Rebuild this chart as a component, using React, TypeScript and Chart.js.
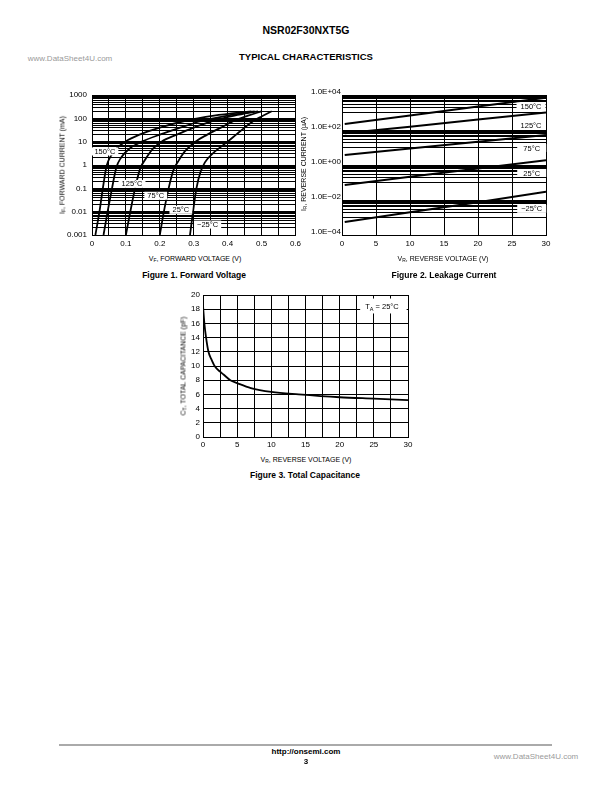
import React, { useEffect, useRef } from "react";
import { Chart, registerables } from "chart.js";
Chart.register(...registerables);

const FONT = "'Liberation Sans', Arial, Helvetica, sans-serif";

// ---------- Figure 1: Forward Voltage (V) vs Forward Current (mA) ----------
const fwdTemps = ["150°C", "125°C", "75°C", "25°C", "−25°C"];
const fwd150V = [0.01, 0.022, 0.032, 0.043, 0.056, 0.075, 0.098, 0.14, 0.2, 0.27, 0.36, 0.47];
const fwd150I = [0.001, 0.01, 0.1, 0.9, 2.5, 5.5, 10, 20, 40, 75, 130, 200];
const fwd125V = [0.034, 0.046, 0.059, 0.072, 0.085, 0.11, 0.147, 0.2, 0.26, 0.32, 0.4, 0.48];
const fwd125I = [0.001, 0.01, 0.1, 0.8, 2, 5, 10, 20, 40, 75, 130, 200];
const fwd75V = [0.1, 0.113, 0.127, 0.142, 0.158, 0.18, 0.205, 0.25, 0.3, 0.36, 0.42, 0.49];
const fwd75I = [0.001, 0.01, 0.1, 0.7, 1.8, 5, 10, 20, 40, 80, 130, 200];
const fwd25V = [0.2, 0.212, 0.226, 0.24, 0.255, 0.275, 0.305, 0.34, 0.38, 0.42, 0.46, 0.5];
const fwd25I = [0.001, 0.01, 0.1, 0.6, 1.5, 4, 10, 20, 40, 80, 130, 200];
const fwdM25V = [0.289, 0.298, 0.308, 0.32, 0.333, 0.355, 0.4, 0.425, 0.45, 0.475, 0.5, 0.53];
const fwdM25I = [0.001, 0.01, 0.1, 0.5, 1.3, 3, 10, 20, 40, 75, 120, 200];
const fwdXTicks = [0, 0.05, 0.1, 0.15, 0.2, 0.25, 0.3, 0.35, 0.4, 0.45, 0.5, 0.55, 0.6];
const fwdXLabels = ["0", "0.1", "0.2", "0.3", "0.4", "0.5", "0.6"];
const fwdYDecades = [-3, -2, -1, 0, 1, 2, 3];
const fwdYLabels = ["0.001", "0.01", "0.1", "1", "10", "100", "1000"];
const fwdLabelV = [0.038, 0.118, 0.188, 0.262, 0.341];
const fwdLabelI = [3.8, 0.155, 0.048, 0.012, 0.0028];

// ---------- Figure 2: Reverse Voltage (V) vs Reverse Current (µA) ----------
const revTemps = ["150°C", "125°C", "75°C", "25°C", "−25°C"];
const revV = [0.4, 10, 20, 30];
const rev150 = [220, 680, 2200, 7000];
const rev125 = [65, 155, 400, 1000];
const rev75 = [3.7, 8.8, 21, 52];
const rev25 = [0.072, 0.21, 0.63, 1.9];
const revM25 = [0.00055, 0.002, 0.0075, 0.03];
const revXTicks = [0, 5, 10, 15, 20, 25, 30];
const revXLabels = ["0", "5", "10", "15", "20", "25", "30"];
const revYDecades = [-4, -3, -2, -1, 0, 1, 2, 3, 4];
const revYLabels: Record<string, string> = { "4": "1.0E+04", "2": "1.0E+02", "0": "1.0E+00", "-2": "1.0E−02", "-4": "1.0E−04" };
const revLabelV = [27.8, 27.8, 27.9, 27.9, 27.9];
const revLabelI = [2140, 193, 9.4, 0.35, 0.0031];

// ---------- Figure 3: Reverse Voltage (V) vs Total Capacitance (pF) ----------
const capV = [0, 0.2, 0.45, 0.8, 1.2, 1.7, 2.5, 3, 4, 5, 7, 10, 14, 20, 25, 30];
const capC = [18.5, 16, 14, 12, 11, 10, 9.2, 8.8, 8, 7.6, 6.9, 6.35, 6, 5.6, 5.4, 5.2];
const capXTicks = [0, 2.5, 5, 7.5, 10, 12.5, 15, 17.5, 20, 22.5, 25, 27.5, 30];
const capXLabels = ["0", "5", "10", "15", "20", "25", "30"];
const capYTicks = [0, 2, 4, 6, 8, 10, 12, 14, 16, 18, 20];
const capYLabels = ["0", "2", "4", "6", "8", "10", "12", "14", "16", "18", "20"];

// ---------- plugins ----------
const curveLabelPlugin = {
  id: "curveLabels",
  afterDatasetsDraw(chart: any, _args: any, opts: any) {
    const items = (opts && opts.items) || [];
    const ctx = chart.ctx;
    const xs = chart.scales.x;
    const ys = chart.scales.y;
    ctx.save();
    ctx.font = `${opts.size || 7.5}px ${FONT}`;
    ctx.textBaseline = "middle";
    ctx.textAlign = "center";
    for (const it of items) {
      const px = xs.getPixelForValue(it.x);
      const py = ys.getPixelForValue(it.y);
      const w = opts.boxW || ctx.measureText(it.text).width + 6;
      const h = opts.boxH || 8;
      ctx.fillStyle = "#fff";
      ctx.fillRect(px - w / 2, py - h / 2, w, h);
      ctx.fillStyle = "#000";
      ctx.fillText(it.text, px, py + 0.5);
    }
    ctx.restore();
  },
};

const taPlugin = {
  id: "taLabel",
  afterDatasetsDraw(chart: any, _args: any, opts: any) {
    if (!opts || !opts.show) return;
    const ctx = chart.ctx;
    const xs = chart.scales.x;
    const ys = chart.scales.y;
    const x0 = xs.getPixelForValue(opts.x0);
    const x1 = xs.getPixelForValue(opts.x1);
    const y0 = ys.getPixelForValue(opts.y1);
    const y1 = ys.getPixelForValue(opts.y0);
    ctx.save();
    ctx.fillStyle = "#fff";
    ctx.fillRect(x0, y0, x1 - x0, y1 - y0);
    ctx.fillStyle = "#000";
    ctx.textBaseline = "alphabetic";
    ctx.textAlign = "left";
    const base = (y0 + y1) / 2 + 3;
    let x = x0 + 5;
    ctx.font = `7.5px ${FONT}`;
    ctx.fillText("T", x, base);
    x += ctx.measureText("T").width;
    ctx.font = `5.5px ${FONT}`;
    ctx.fillText("A", x, base + 2);
    x += ctx.measureText("A").width;
    ctx.font = `7.5px ${FONT}`;
    ctx.fillText(" = 25°C", x, base);
    ctx.restore();
  },
};

const tickFont = { family: FONT, size: 8 };

function pts(xs: number[], ys: number[]) {
  return xs.map((v, i) => ({ x: v, y: ys[i] }));
}

function lineDs(data: { x: number; y: number }[], smooth: boolean, width = 1.8) {
  return {
    data,
    borderColor: "#000",
    borderWidth: width,
    pointRadius: 0,
    fill: false,
    cubicInterpolationMode: smooth ? "monotone" : "default",
    tension: 0,
  };
}

function baseOptions(padding: any) {
  return {
    responsive: false,
    animation: false,
    devicePixelRatio: 1,
    layout: { padding },
    plugins: { legend: { display: false }, tooltip: { enabled: false } },
  };
}

function logTickValues(decades: number[], minorDecades: number[]) {
  const out: number[] = [];
  for (const d of decades) {
    out.push(Math.pow(10, d));
    if (minorDecades.includes(d)) {
      for (let k = 2; k <= 9; k++) out.push(k * Math.pow(10, d));
    }
  }
  return out;
}

function fig1Config(): any {
  const curves = [
    pts(fwd150V, fwd150I),
    pts(fwd125V, fwd125I),
    pts(fwd75V, fwd75I),
    pts(fwd25V, fwd25I),
    pts(fwdM25V, fwdM25I),
  ];
  const yTicks = logTickValues(fwdYDecades, fwdYDecades.slice(0, -1));
  return {
    type: "line",
    data: { datasets: curves.map((c) => lineDs(c, true, 1.8)) },
    options: {
      ...baseOptions({ left: 22, right: 9, top: 10, bottom: 0 }),
      plugins: {
        legend: { display: false },
        tooltip: { enabled: false },
        curveLabels: {
          size: 7.5,
          boxH: 8,
          items: fwdTemps.map((t, i) => ({ text: t, x: fwdLabelV[i], y: fwdLabelI[i] })),
        },
      },
      scales: {
        x: {
          type: "linear",
          min: 0,
          max: 0.6,
          afterBuildTicks: (s: any) => {
            s.ticks = fwdXTicks.map((v) => ({ value: v }));
          },
          afterFit: (s: any) => {
            s.height = 15;
          },
          ticks: {
            autoSkip: false,
            maxRotation: 0,
            padding: 4,
            color: "#000",
            font: tickFont,
            callback: (_v: any, i: number) => (i % 2 === 0 ? fwdXLabels[i / 2] : ""),
          },
          grid: { color: "#000", lineWidth: 1, drawTicks: false },
          border: { color: "#000", width: 1 },
        },
        y: {
          type: "logarithmic",
          min: 0.001,
          max: 1000,
          afterBuildTicks: (s: any) => {
            s.ticks = yTicks.map((v) => ({ value: v }));
          },
          afterFit: (s: any) => {
            s.width = 40;
          },
          ticks: {
            autoSkip: false,
            padding: 5,
            color: "#000",
            font: tickFont,
            callback: (v: any) => {
              const d = Math.log10(Number(v));
              const r = Math.round(d);
              if (Math.abs(d - r) > 1e-6) return "";
              const idx = fwdYDecades.indexOf(r);
              return idx >= 0 ? fwdYLabels[idx] : "";
            },
          },
          grid: { color: "#000", lineWidth: 1, drawTicks: false },
          border: { color: "#000", width: 1 },
        },
      },
    },
    plugins: [curveLabelPlugin],
  };
}

function fig2Config(): any {
  const curves = [pts(revV, rev150), pts(revV, rev125), pts(revV, rev75), pts(revV, rev25), pts(revV, revM25)];
  const yTicks = logTickValues(revYDecades, [-3, -1, 1, 3]);
  return {
    type: "line",
    data: { datasets: curves.map((c) => lineDs(c, false, 2)) },
    options: {
      ...baseOptions({ left: 6, right: 14, top: 10, bottom: 0 }),
      plugins: {
        legend: { display: false },
        tooltip: { enabled: false },
        curveLabels: {
          size: 7.5,
          boxW: 29,
          boxH: 8,
          items: revTemps.map((t, i) => ({ text: t, x: revLabelV[i], y: revLabelI[i] })),
        },
      },
      scales: {
        x: {
          type: "linear",
          min: 0,
          max: 30,
          afterBuildTicks: (s: any) => {
            s.ticks = revXTicks.map((v) => ({ value: v }));
          },
          afterFit: (s: any) => {
            s.height = 15;
          },
          ticks: {
            autoSkip: false,
            maxRotation: 0,
            padding: 4,
            color: "#000",
            font: tickFont,
            callback: (_v: any, i: number) => revXLabels[i],
          },
          grid: { color: "#000", lineWidth: 1, drawTicks: false },
          border: { color: "#000", width: 1 },
        },
        y: {
          type: "logarithmic",
          min: 0.0001,
          max: 10000,
          afterBuildTicks: (s: any) => {
            s.ticks = yTicks.map((v) => ({ value: v }));
          },
          afterFit: (s: any) => {
            s.width = 36;
          },
          ticks: {
            autoSkip: false,
            padding: 1,
            labelOffset: -3,
            color: "#000",
            font: tickFont,
            callback: (v: any) => {
              const d = Math.log10(Number(v));
              const r = Math.round(d);
              if (Math.abs(d - r) > 1e-6) return "";
              return revYLabels[String(r)] || "";
            },
          },
          grid: { color: "#000", lineWidth: 1, drawTicks: false },
          border: { color: "#000", width: 1 },
        },
      },
    },
    plugins: [curveLabelPlugin],
  };
}

function fig3Config(): any {
  return {
    type: "line",
    data: { datasets: [lineDs(pts(capV, capC), true, 1.8)] },
    options: {
      ...baseOptions({ left: 13, right: 12, top: 10, bottom: 0 }),
      plugins: {
        legend: { display: false },
        tooltip: { enabled: false },
        taLabel: { show: true, x0: 23, x1: 29.8, y0: 17.4, y1: 19.5 },
      },
      scales: {
        x: {
          type: "linear",
          min: 0,
          max: 30,
          afterBuildTicks: (s: any) => {
            s.ticks = capXTicks.map((v) => ({ value: v }));
          },
          afterFit: (s: any) => {
            s.height = 13;
          },
          ticks: {
            autoSkip: false,
            maxRotation: 0,
            padding: 3,
            color: "#000",
            font: tickFont,
            callback: (_v: any, i: number) => (i % 2 === 0 ? capXLabels[i / 2] : ""),
          },
          grid: { color: "#000", lineWidth: 1, drawTicks: false },
          border: { color: "#000", width: 1 },
        },
        y: {
          type: "linear",
          min: 0,
          max: 20,
          afterBuildTicks: (s: any) => {
            s.ticks = capYTicks.map((v) => ({ value: v }));
          },
          afterFit: (s: any) => {
            s.width = 20;
          },
          ticks: {
            autoSkip: false,
            padding: 3,
            color: "#000",
            font: tickFont,
            callback: (_v: any, i: number) => capYLabels[i],
          },
          grid: { color: "#000", lineWidth: 1, drawTicks: false },
          border: { color: "#000", width: 1 },
        },
      },
    },
    plugins: [taPlugin],
  };
}

function ChartCanvas({ x, y, w, h, make }: { x: number; y: number; w: number; h: number; make: () => any }) {
  const ref = useRef<HTMLCanvasElement>(null);
  useEffect(() => {
    const chart = new Chart(ref.current as HTMLCanvasElement, make());
    return () => chart.destroy();
  }, []);
  return (
    <canvas
      ref={ref}
      width={w}
      height={h}
      style={{ position: "absolute", left: x, top: y, width: w, height: h }}
    />
  );
}

function Txt({
  x,
  y,
  size,
  bold,
  color,
  rotate,
  children,
}: {
  x: number;
  y: number;
  size: number;
  bold?: boolean;
  color?: string;
  rotate?: boolean;
  children: any;
}) {
  return (
    <div
      style={{
        position: "absolute",
        left: x,
        top: y,
        transform: `translate(-50%, -50%)${rotate ? " rotate(-90deg)" : ""}`,
        fontFamily: FONT,
        fontSize: size,
        fontWeight: bold ? "bold" : "normal",
        color: color || "#000",
        whiteSpace: "nowrap",
        lineHeight: 1,
      }}
    >
      {children}
    </div>
  );
}

const subStyle: React.CSSProperties = { fontSize: "70%", verticalAlign: "-0.25em", lineHeight: 0 };

export default function App() {
  return (
    <div style={{ position: "absolute", left: 0, top: 0, width: 612, height: 792, background: "#fff", overflow: "hidden" }}>
      <Txt x={306} y={30} size={10.5} bold>
        NSR02F30NXT5G
      </Txt>
      <Txt x={70} y={59} size={8} color="#9a9a9a">
        www.DataSheet4U.com
      </Txt>
      <Txt x={306} y={57} size={9.5} bold>
        TYPICAL CHARACTERISTICS
      </Txt>

      <ChartCanvas x={30} y={85} w={275} h={165} make={fig1Config} />
      <Txt x={62} y={165} size={7} rotate>
        I<span style={subStyle}>F</span>, FORWARD CURRENT (mA)
      </Txt>
      <Txt x={195} y={258} size={7}>
        V<span style={subStyle}>F</span>, FORWARD VOLTAGE (V)
      </Txt>
      <Txt x={194} y={275} size={8.5} bold>
        Figure 1. Forward Voltage
      </Txt>

      <ChartCanvas x={300} y={85} w={260} h={165} make={fig2Config} />
      <Txt x={303} y={164} size={7} rotate>
        I<span style={subStyle}>R</span>, REVERSE CURRENT (µA)
      </Txt>
      <Txt x={443} y={258} size={7}>
        V<span style={subStyle}>R</span>, REVERSE VOLTAGE (V)
      </Txt>
      <Txt x={444} y={275} size={8.5} bold>
        Figure 2. Leakage Current
      </Txt>

      <ChartCanvas x={170} y={285} w={250} h={165} make={fig3Config} />
      <Txt x={183} y={366} size={7} rotate>
        C<span style={subStyle}>T</span>, TOTAL CAPACITANCE (pF)
      </Txt>
      <Txt x={306} y={459} size={7}>
        V<span style={subStyle}>R</span>, REVERSE VOLTAGE (V)
      </Txt>
      <Txt x={305} y={475} size={8.5} bold>
        Figure 3. Total Capacitance
      </Txt>

      <div style={{ position: "absolute", left: 59, top: 744, width: 493, height: 2, background: "#aaa" }} />
      <Txt x={306} y={752} size={8} bold>
        http://onsemi.com
      </Txt>
      <Txt x={306} y={762} size={8} bold>
        3
      </Txt>
      <Txt x={536} y={757} size={8} color="#9a9a9a">
        www.DataSheet4U.com
      </Txt>
    </div>
  );
}
